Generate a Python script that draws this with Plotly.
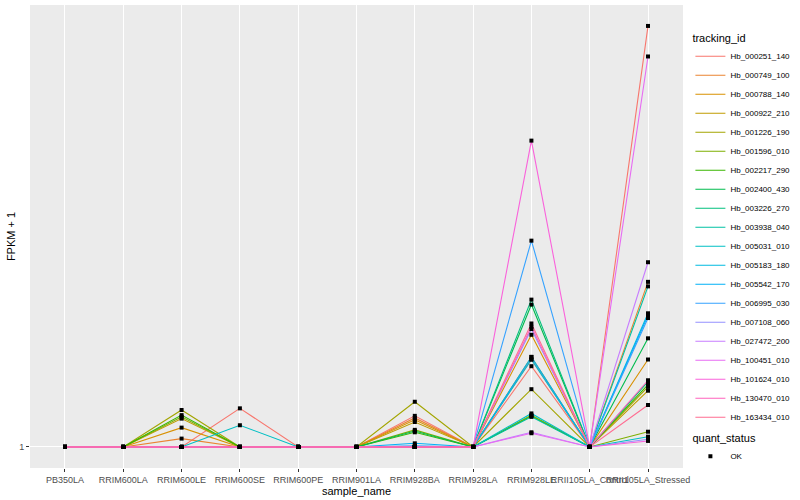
import plotly.graph_objects as go

samples = ["PB350LA", "RRIM600LA", "RRIM600LE", "RRIM600SE", "RRIM600PE", "RRIM901LA",
           "RRIM928BA", "RRIM928LA", "RRIM928LE", "RRII105LA_Control", "RRII105LA_Stressed"]

tracking_ids = ["Hb_000251_140", "Hb_000749_100", "Hb_000788_140", "Hb_000922_210",
                "Hb_001226_190", "Hb_001596_010", "Hb_002217_290", "Hb_002400_430",
                "Hb_003226_270", "Hb_003938_040", "Hb_005031_010", "Hb_005183_180",
                "Hb_005542_170", "Hb_006995_030", "Hb_007108_060", "Hb_027472_200",
                "Hb_100451_010", "Hb_101624_010", "Hb_130470_010", "Hb_163434_010"]

# FPKM + 1 per sample (order of `samples`)
hb_000251_140 = [1, 1, 1, 1.21, 1, 1, 1.166, 1, 1.49, 1, 8.0]
hb_000749_100 = [1, 1, 1.042, 1, 1, 1, 1.154, 1, 1.54, 1, 2.26]
hb_000788_140 = [1, 1, 1.10, 1, 1, 1, 1.143, 1, 1.74, 1, 1.54]
hb_000922_210 = [1, 1, 1.15, 1, 1, 1, 1.131, 1, 1.56, 1, 1.32]
hb_001226_190 = [1, 1, 1.20, 1, 1, 1, 1.25, 1, 1.33, 1, 1.345]
hb_001596_010 = [1, 1, 1.16, 1, 1, 1, 1.088, 1, 1.17, 1, 1.078]
hb_002217_290 = [1, 1, 1.17, 1, 1, 1, 1.075, 1, 1.165, 1, 1.36]
hb_002400_430 = [1, 1, 1, 1, 1, 1, 1.082, 1, 2.02, 1, 1.71]
hb_003226_270 = [1, 1, 1, 1, 1, 1, 1, 1, 2.07, 1, 1.38]
hb_003938_040 = [1, 1, 1, 1, 1, 1, 1, 1, 1.16, 1, 2.21]
hb_005031_010 = [1, 1, 1, 1.113, 1, 1, 1, 1, 1.18, 1, 1.052]
hb_005183_180 = [1, 1, 1, 1, 1, 1, 1, 1, 1.54, 1, 1.935]
hb_005542_170 = [1, 1, 1, 1, 1, 1, 1.018, 1, 1.56, 1, 1.915]
hb_006995_030 = [1, 1, 1, 1, 1, 1, 1.006, 1, 2.77, 1, 1.89]
hb_007108_060 = [1, 1, 1, 1, 1, 1, 1, 1, 1.79, 1, 1.039]
hb_027472_200 = [1, 1, 1, 1, 1, 1, 1, 1, 1.075, 1, 2.49]
hb_100451_010 = [1, 1, 1, 1, 1, 1, 1, 1, 1.07, 1, 6.88]
hb_101624_010 = [1, 1, 1, 1, 1, 1, 1, 1, 4.54, 1, 1.030]
hb_130470_010 = [1, 1, 1, 1, 1, 1, 1, 1, 1.81, 1, 1.39]
hb_163434_010 = [1, 1, 1, 1, 1, 1, 1, 1, 1.84, 1, 1.23]

series = [hb_000251_140, hb_000749_100, hb_000788_140, hb_000922_210, hb_001226_190,
          hb_001596_010, hb_002217_290, hb_002400_430, hb_003226_270, hb_003938_040,
          hb_005031_010, hb_005183_180, hb_005542_170, hb_006995_030, hb_007108_060,
          hb_027472_200, hb_100451_010, hb_101624_010, hb_130470_010, hb_163434_010]

colors = ["#F8766D", "#EA8331", "#D89000", "#C09B00", "#A3A500", "#7CAE00", "#39B600",
          "#00BB4E", "#00BF7D", "#00C1A3", "#00BFC4", "#00BAE0", "#00B0F6", "#35A2FF",
          "#9590FF", "#C77CFF", "#E76BF3", "#FA62DB", "#FF62BC", "#FF6C91"]

font = "Liberation Sans"
fig = go.Figure()

for tid, vals, col in zip(tracking_ids, series, colors):
    fig.add_trace(go.Scatter(x=samples, y=vals, mode="lines", name=tid,
                             line=dict(color=col, width=1.1), legend="legend"))

all_x, all_y = [], []
for vals in series:
    all_x += samples
    all_y += vals
fig.add_trace(go.Scatter(x=all_x, y=all_y, mode="markers", name="OK",
                         marker=dict(symbol="square", size=4, color="black"),
                         legend="legend2"))

fig.update_layout(
    width=800, height=500,
    margin=dict(l=30, r=117, t=5, b=32, autoexpand=False),
    paper_bgcolor="white", plot_bgcolor="#EBEBEB",
    font=dict(family=font, size=9, color="#4D4D4D"),
    xaxis=dict(type="category", range=[-0.6, 10.6], tickangle=0, automargin=False,
               showgrid=True, gridcolor="white", gridwidth=1.1, zeroline=False,
               ticks="outside", ticklen=3, tickcolor="#333333",
               tickfont=dict(size=9, color="#4D4D4D", family=font),
               title=dict(text="sample_name", standoff=0,
                          font=dict(size=11, color="black", family=font))),
    yaxis=dict(type="log", range=[-0.0452, 0.948], tickvals=[1], ticktext=["1"],
               automargin=False,
               showgrid=True, gridcolor="white", gridwidth=1.1, zeroline=False,
               ticks="outside", ticklen=3, tickcolor="#333333",
               tickfont=dict(size=9, color="#4D4D4D", family=font),
               title=dict(text="FPKM + 1", standoff=1,
                          font=dict(size=11, color="black", family=font))),
    legend=dict(xref="container", yref="container", x=0.863, y=0.945,
                xanchor="left", yanchor="top", itemwidth=30, maxheight=480,
                tracegroupgap=0,
                title=dict(text="tracking_id", font=dict(size=11, color="black", family=font)),
                font=dict(size=8, color="black", family=font), bgcolor="rgba(0,0,0,0)"),
    legend2=dict(xref="container", yref="container", x=0.863, y=0.145,
                 xanchor="left", yanchor="top", itemwidth=30,
                 title=dict(text="quant_status", font=dict(size=11, color="black", family=font)),
                 font=dict(size=8, color="black", family=font), bgcolor="rgba(0,0,0,0)"),
)

fig.write_html("out.html", config={"displayModeBar": False},
               post_script="document.body.style.margin='0';document.body.style.padding='0';")
